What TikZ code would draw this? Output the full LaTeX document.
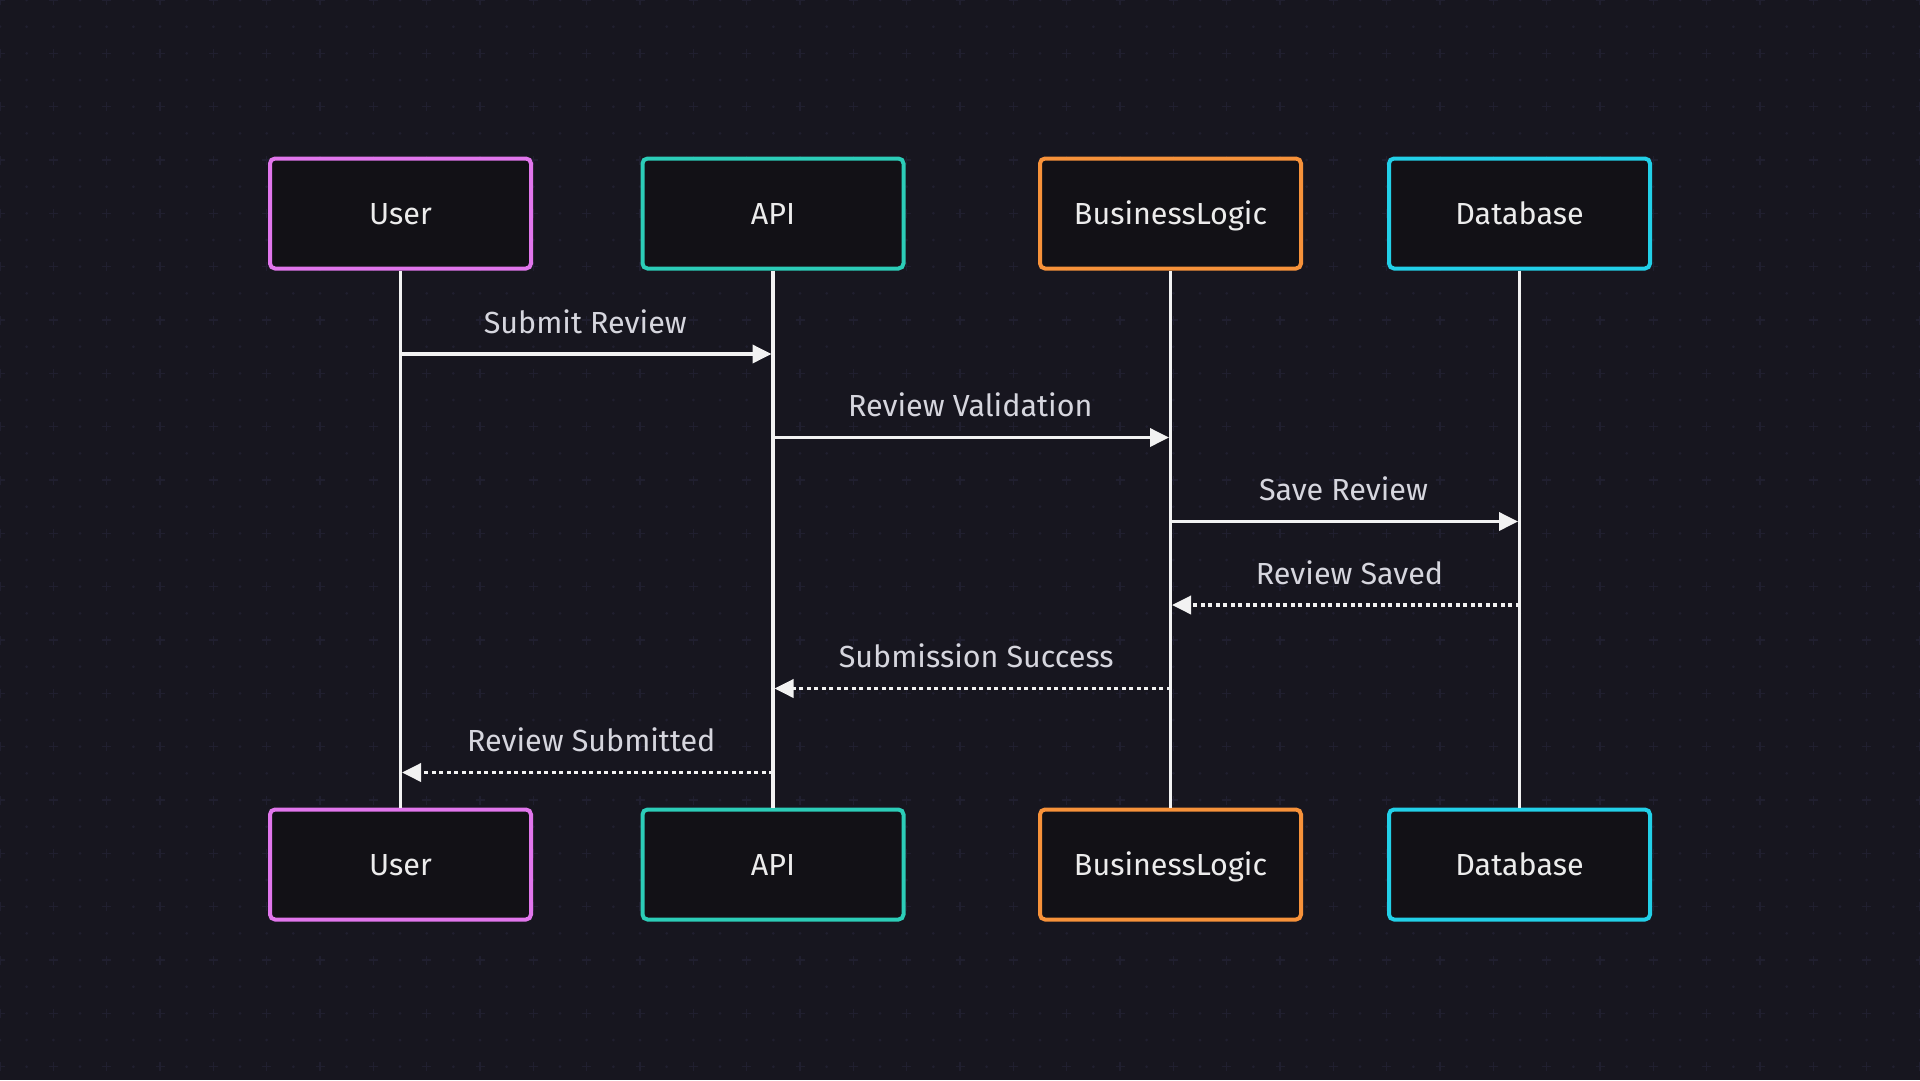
\documentclass[tikz,border=0pt]{standalone}
\usepackage{fontspec}
\setmainfont{Fira Sans}
\usetikzlibrary{arrows.meta,calc}
\definecolor{bgc}{HTML}{17161F}
\definecolor{dotc}{HTML}{201F2F}
\definecolor{boxfill}{HTML}{121116}
\definecolor{userc}{HTML}{E176EC}
\definecolor{apic}{HTML}{2CCDB8}
\definecolor{blc}{HTML}{F7923A}
\definecolor{dbc}{HTML}{22D0E8}
\definecolor{txtc}{HTML}{ECECEC}
\definecolor{lblc}{HTML}{D6D6DE}
\definecolor{linec}{HTML}{F2F2F2}
\tikzset{
  actor/.style={draw, fill=boxfill, line width=4pt, rounded corners=5pt,
    minimum width=261pt, minimum height=110pt, inner sep=0pt,
    text height=21pt, text depth=0pt,
    text=txtc, font=\fontsize{30.5}{36}\selectfont},
  life/.style={draw=linec, line width=3.6pt},
  msg/.style={draw=linec, line width=3.6pt, -{Triangle[length=19pt,width=18pt]}, shorten >=1.5pt},
  reply/.style={msg, dash pattern=on 4pt off 3.5pt},
  lbl/.style={text=lblc, font=\fontsize{30.5}{36}\selectfont, anchor=base},
}
\begin{document}
\begin{tikzpicture}[x=1pt,y=-1pt]
\useasboundingbox (0,0) rectangle (1920,1080);
\fill[bgc] (0,0) rectangle (1920,1080);
% background grid
\foreach \i in {0,...,72}{
  \foreach \j in {0,...,40}{
    \pgfmathtruncatemacro{\ev}{(mod(\i,2)==0) && (mod(\j,2)==0)}
    \ifnum\ev=1
      \draw[dotc, line width=1.3pt] ({\i*26.6667-4.5},{\j*26.6667}) -- ++(9,0)
        ({\i*26.6667},{\j*26.6667-4.5}) -- ++(0,9);
    \else
      \fill[dotc] ({\i*26.6667},{\j*26.6667}) circle (1.5);
    \fi
  }
}
% actors
\node[actor, draw=userc] (u1) at (400.5,213.5) {User};
\node[actor, draw=apic]  (a1) at (773,213.5) {API};
\node[actor, draw=blc]   (b1) at (1170.5,213.5) {BusinessLogic};
\node[actor, draw=dbc]   (d1) at (1519.5,213.5) {Database};
\node[actor, draw=userc] (u2) at (400.5,864.5) {User};
\node[actor, draw=apic]  (a2) at (773,864.5) {API};
\node[actor, draw=blc]   (b2) at (1170.5,864.5) {BusinessLogic};
\node[actor, draw=dbc]   (d2) at (1519.5,864.5) {Database};
% lifelines
\draw[life] (u1.south) -- (u2.north);
\draw[life] (a1.south) -- (a2.north);
\draw[life] (b1.south) -- (b2.north);
\draw[life] (d1.south) -- (d2.north);
% message anchor points
\coordinate (u1m) at (u1 |- 0,354);   \coordinate (a1m) at (a1 |- 0,354);
\coordinate (a2m) at (a1 |- 0,437.5); \coordinate (b2m) at (b1 |- 0,437.5);
\coordinate (b3m) at (b1 |- 0,521.5); \coordinate (d3m) at (d1 |- 0,521.5);
\coordinate (d4m) at (d1 |- 0,605);   \coordinate (b4m) at (b1 |- 0,605);
\coordinate (b5m) at (b1 |- 0,688.5); \coordinate (a5m) at (a1 |- 0,688.5);
\coordinate (a6m) at (a1 |- 0,772.5); \coordinate (u6m) at (u1 |- 0,772.5);
% messages
\draw[msg] (u1m) -- (a1m) node[lbl, midway, yshift=21pt, xshift=-1.5pt] (l1) {Submit Review};
\draw[msg] (a2m) -- (b2m) node[lbl, midway, yshift=21pt, xshift=-1.5pt] (l2) {Review Validation};
\draw[msg] (b3m) -- (d3m) node[lbl, midway, yshift=21pt, xshift=-1.5pt] (l3) {Save Review};
\draw[reply] (d4m) -- (b4m) node[lbl, midway, yshift=21pt, xshift=4.5pt] (l4) {Review Saved};
\draw[reply] (b5m) -- (a5m) node[lbl, midway, yshift=21pt, xshift=4.5pt] (l5) {Submission Success};
\draw[reply] (a6m) -- (u6m) node[lbl, midway, yshift=21pt, xshift=4.5pt] (l6) {Review Submitted};
\end{tikzpicture}
\end{document}
